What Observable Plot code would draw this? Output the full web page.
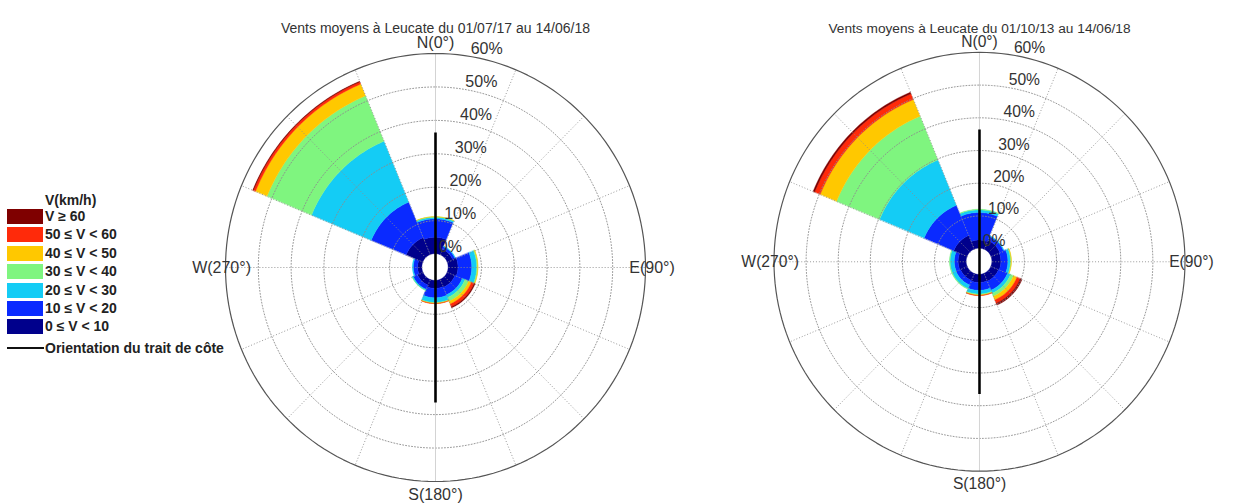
<!DOCTYPE html>
<html>
<head>
<meta charset="utf-8">
<script src="https://cdn.jsdelivr.net/npm/d3@7"></script>
<script src="https://cdn.jsdelivr.net/npm/@observablehq/plot@0.6"></script>
<style>
  html, body { margin: 0; padding: 0; background: #fff; }
  #wrap { position: relative; width: 1253px; height: 503px; overflow: hidden; background: #fff;
          font-family: "Liberation Sans", Arial, Helvetica, sans-serif; }
  .rose { position: absolute; top: 0; }
  .rose svg { background: transparent !important; }
  #legend { position: absolute; left: 0; top: 0; width: 240px; height: 503px; z-index: 5; pointer-events: none; }
  .lg-title { position: absolute; left: 45px; font-weight: bold; font-size: 14px; color: #222; line-height: 14px; }
  .lg-sw { position: absolute; left: 7px; width: 36px; height: 15px; box-sizing: border-box; }
  .lg-tx { position: absolute; left: 45px; font-weight: bold; font-size: 14px; color: #222; line-height: 15px; white-space: nowrap; }
  .lg-line { position: absolute; left: 7px; width: 37px; height: 2px; background: #111; }
</style>
</head>
<body>
<div id="wrap">
  <div id="legend"></div>
</div>
<script>
// ---------------- data ----------------
const directions = ["N", "NE", "E", "SE", "S", "SW", "W", "NW"];
const directionAngles = [0, 45, 90, 135, 180, 225, 270, 315];
const speedClasses = ["0 ≤ V < 10", "10 ≤ V < 20", "20 ≤ V < 30", "30 ≤ V < 40", "40 ≤ V < 50", "50 ≤ V < 60", "V ≥ 60"];
const classColors = ["#00008c", "#0a2aff", "#14ccf5", "#7ff57f", "#ffc800", "#ff2a0a", "#7f0000"];
const legendTitle = "V(km/h)";
const coastLabel = "Orientation du trait de côte";

// Period 1 : 01/07/17 – 14/06/18 (% of time, per direction N..NW)
const titleA = "Vents moyens à Leucate du 01/07/17 au 14/06/18";
const a_v0_10  = [4.9, 1.8, 3.0, 2.6, 2.4, 1.8, 1.3, 5.5];
const a_v10_20 = [5.5, 0.8, 4.2, 2.4, 2.8, 1.4, 1.3, 11.5];
const a_v20_30 = [0.5, 0.2, 1.5, 0.9, 1.4, 0.3, 0.3, 19.7];
const a_v30_40 = [0.1, 0.0, 0.3, 1.2, 0.2, 0.05, 0.0, 14.7];
const a_v40_50 = [0.05, 0.0, 0.1, 0.9, 0.1, 0.0, 0.0, 3.8];
const a_v50_60 = [0.0, 0.0, 0.0, 0.9, 0.05, 0.0, 0.0, 0.7];
const a_v60    = [0.0, 0.0, 0.0, 0.3, 0.0, 0.0, 0.0, 0.2];

// Period 2 : 01/10/13 – 14/06/18
const titleB = "Vents moyens à Leucate du 01/10/13 au 14/06/18";
const b_v0_10  = [2.5, 3.0, 2.8, 2.6, 2.5, 2.3, 2.5, 4.5];
const b_v10_20 = [8.4, 1.3, 2.2, 3.0, 2.4, 1.5, 1.2, 10.0];
const b_v20_30 = [0.8, 0.2, 0.8, 1.0, 1.1, 1.2, 1.3, 15.0];
const b_v30_40 = [0.2, 0.0, 0.2, 1.0, 0.3, 0.2, 0.2, 14.5];
const b_v40_50 = [0.0, 0.0, 0.1, 1.2, 0.1, 0.0, 0.0, 5.5];
const b_v50_60 = [0.0, 0.0, 0.0, 1.1, 0.1, 0.0, 0.0, 1.9];
const b_v60    = [0.0, 0.0, 0.0, 0.6, 0.0, 0.0, 0.0, 0.5];

const ringTicks = [0, 10, 20, 30, 40, 50, 60];
const compassLabels = ["N(0°)", "E(90°)", "S(180°)", "W(270°)"];
const spokeAngles = [0, 22.5, 45, 67.5, 90, 112.5, 135, 157.5, 180, 202.5, 225, 247.5, 270, 292.5, 315, 337.5];
const coastOrientation = 0;   // degrees
const coastReach = 36.4;      // % radius reached by the coast line

// ---------------- geometry (scale units = % with central hole) ----------------
const HOLE = 4;
const RMAX = 60;
const U = HOLE + RMAX;
const W = 560, H = 503, CX = 280, CY = 267, RX = 210, RY = 214;
const rad = d => d * Math.PI / 180;

function wedgeRows(classArrays) {
  const rows = [];
  directions.forEach((d, i) => {
    let cum = 0;
    classArrays.forEach((arr, k) => {
      const v = arr[i];
      if (!(v > 0)) return;
      const ri = HOLE + cum, ro = HOLE + cum + v;
      cum += v;
      const a0 = directionAngles[i] - 22.5, a1 = directionAngles[i] + 22.5;
      const n = 40;
      for (let s = 0; s <= n; s++) {
        rows.push({id: d + "-" + k, cls: speedClasses[k], a: rad(a0 + (a1 - a0) * s / n), ri, ro});
      }
    });
  });
  return rows;
}

function ringRows(ticks) {
  const rows = [];
  ticks.forEach(t => {
    for (let s = 0; s <= 360; s += 2) rows.push({t, a: rad(s)});
  });
  return rows;
}

function rose(title, classArrays) {
  const grid = "#8c8c8c";
  const labelAng = rad(9.3);
  return Plot.plot({
    width: W, height: H, margin: 0,
    style: {fontFamily: "'Liberation Sans', Arial, Helvetica, sans-serif", background: "transparent", overflow: "visible"},
    x: {domain: [-U, U], range: [CX - RX, CX + RX], axis: null},
    y: {domain: [-U, U], range: [CY + RY, CY - RY], axis: null},
    color: {type: "ordinal", domain: speedClasses, range: classColors},
    marks: [
      Plot.area(wedgeRows(classArrays), {
        x1: d => d.ri * Math.sin(d.a), y1: d => d.ri * Math.cos(d.a),
        x2: d => d.ro * Math.sin(d.a), y2: d => d.ro * Math.cos(d.a),
        z: "id", fill: "cls", stroke: "cls", strokeWidth: 0.4
      }),
      Plot.line(ringRows(ringTicks.filter(t => t > 0 && t < RMAX)), {
        x: d => (HOLE + d.t) * Math.sin(d.a), y: d => (HOLE + d.t) * Math.cos(d.a),
        z: "t", stroke: grid, strokeWidth: 0.9, strokeDasharray: "1,2"
      }),
      Plot.link(spokeAngles.filter(a => a % 180 !== 0), {
        x1: a => HOLE * Math.sin(rad(a)), y1: a => HOLE * Math.cos(rad(a)),
        x2: a => U * Math.sin(rad(a)), y2: a => U * Math.cos(rad(a)),
        stroke: grid, strokeWidth: 0.9, strokeDasharray: "1,2"
      }),
      Plot.link(spokeAngles.filter(a => a % 180 === 0), {
        x1: a => HOLE * Math.sin(rad(a)), y1: a => HOLE * Math.cos(rad(a)),
        x2: a => U * Math.sin(rad(a)), y2: a => U * Math.cos(rad(a)),
        stroke: "#c8c8c8", strokeWidth: 0.8
      }),
      Plot.line(ringRows([RMAX]), {
        x: d => (HOLE + d.t) * Math.sin(d.a), y: d => (HOLE + d.t) * Math.cos(d.a),
        z: "t", stroke: "#555", strokeWidth: 1.2
      }),
      Plot.link([coastOrientation], {
        x1: a => (HOLE + coastReach) * Math.sin(rad(a)), y1: a => (HOLE + coastReach) * Math.cos(rad(a)),
        x2: a => -(HOLE + coastReach) * Math.sin(rad(a)), y2: a => -(HOLE + coastReach) * Math.cos(rad(a)),
        stroke: "#000", strokeWidth: 2.6
      }),
      Plot.text(ringTicks, {
        x: t => (HOLE + t + 2.3) * Math.sin(labelAng), y: t => (HOLE + t + 2.3) * Math.cos(labelAng),
        text: t => t + "%", textAnchor: "start", fontSize: 16, fill: "#333"
      }),
      Plot.text(compassLabels, {
        x: (d, i) => [0, U + 2, 0, -(U + 1.2)][i],
        y: (d, i) => [U + 3.1, 0, -(U + 4.0), 0][i],
        text: d => d,
        textAnchor: (d, i) => ["middle", "start", "middle", "end"][i],
        fontSize: 16, fill: "#333"
      }),
      Plot.text([title], {frameAnchor: "top", dy: 23, text: d => d, fontSize: 14, fill: "#333"})
    ]
  });
}

const wrap = document.getElementById("wrap");
[[titleA, [a_v0_10, a_v10_20, a_v20_30, a_v30_40, a_v40_50, a_v50_60, a_v60], 435],
 [titleB, [b_v0_10, b_v10_20, b_v20_30, b_v30_40, b_v40_50, b_v50_60, b_v60], 985]].forEach(([t, arrs, cx]) => {
  const div = document.createElement("div");
  div.className = "rose";
  div.style.left = (cx - CX) + "px";
  div.appendChild(rose(t, arrs));
  wrap.appendChild(div);
});

// ---------------- legend ----------------
const legend = document.getElementById("legend");
const lt = document.createElement("div");
lt.className = "lg-title"; lt.style.top = "193px"; lt.textContent = legendTitle;
legend.appendChild(lt);
const order = speedClasses.map((c, i) => i).reverse();
order.forEach((k, j) => {
  const top = 209 + j * 18.4;
  const sw = document.createElement("div");
  sw.className = "lg-sw"; sw.style.top = top + "px"; sw.style.background = classColors[k];
  legend.appendChild(sw);
  const tx = document.createElement("div");
  tx.className = "lg-tx"; tx.style.top = top + "px"; tx.textContent = speedClasses[k];
  legend.appendChild(tx);
});
const ln = document.createElement("div");
ln.className = "lg-line"; ln.style.top = "347px"; legend.appendChild(ln);
const lnt = document.createElement("div");
lnt.className = "lg-tx"; lnt.style.top = "340.5px"; lnt.textContent = coastLabel;
legend.appendChild(lnt);
</script>
</body>
</html>
